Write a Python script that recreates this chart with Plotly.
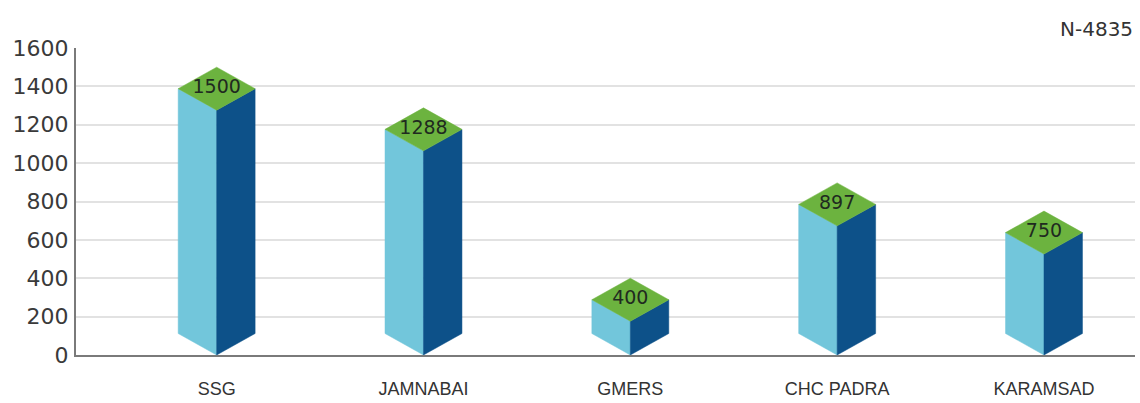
import plotly.graph_objects as go

categories = ["SSG", "JAMNABAI", "GMERS", "CHC PADRA", "KARAMSAD"]
values = [1500, 1288, 400, 897, 750]
y_ticks = [0, 200, 400, 600, 800, 1000, 1200, 1400, 1600]
total_label = "N-4835"

LIGHT = "#72C6DB"
DARK = "#0D5189"
GREEN = "#6CB33F"

W = 0.186   # half width of prism in x data units
H = 112     # half height of the diamond faces in y data units

xs = list(range(len(categories)))

left_x, left_y, right_x, right_y, top_x, top_y = [], [], [], [], [], []
for x, v in zip(xs, values):
    left_x += [x - W, x, x, x - W, x - W, None]
    left_y += [v - H, v - 2 * H, 0, H, v - H, None]
    right_x += [x, x + W, x + W, x, x, None]
    right_y += [v - 2 * H, v - H, H, 0, v - 2 * H, None]
    top_x += [x, x + W, x, x - W, x, None]
    top_y += [v, v - H, v - 2 * H, v - H, v, None]

fig = go.Figure()
for px_, py_, col in [(left_x, left_y, LIGHT), (right_x, right_y, DARK), (top_x, top_y, GREEN)]:
    fig.add_trace(go.Scatter(x=px_, y=py_, mode="lines", fill="toself",
                             fillcolor=col, line=dict(color=col, width=0.5),
                             hoverinfo="skip", showlegend=False))

fig.add_trace(go.Scatter(
    x=xs, y=[v - H for v in values], mode="text",
    text=[str(v) for v in values],
    textfont=dict(family="DejaVu Sans", size=19, color="#1f2a1f"),
    textposition="middle center", hoverinfo="skip", showlegend=False))

fig.update_layout(
    width=1140, height=403,
    margin=dict(l=76, r=5, t=48, b=48),
    paper_bgcolor="white", plot_bgcolor="white",
    showlegend=False,
    xaxis=dict(range=[-0.68, 4.44], tickvals=xs, ticktext=categories,
               showgrid=False, zeroline=False, showline=True,
               linecolor="#7a7a7a", linewidth=2,
               ticks="outside", ticklen=16, tickcolor="rgba(0,0,0,0)",
               tickfont=dict(family="Liberation Sans Narrow, Liberation Sans", size=18, color="#333333")),
    yaxis=dict(range=[0, 1600], tickvals=y_ticks,
               showgrid=True, gridcolor="#e2e2e2", gridwidth=1.5,
               zeroline=False, showline=True, linecolor="#7a7a7a", linewidth=2,
               ticks="", ticklabelstandoff=1,
               tickfont=dict(family="DejaVu Sans", size=22, color="#3a3a3a")),
    annotations=[dict(text=total_label, xref="paper", yref="paper",
                      x=1.0, y=1.062, xanchor="right", yanchor="middle",
                      showarrow=False,
                      font=dict(family="DejaVu Sans", size=20, color="#333333"))],
)

fig.write_html("out.html", config={"displayModeBar": False},
               post_script="document.body.style.margin='0';document.body.style.padding='0';")
